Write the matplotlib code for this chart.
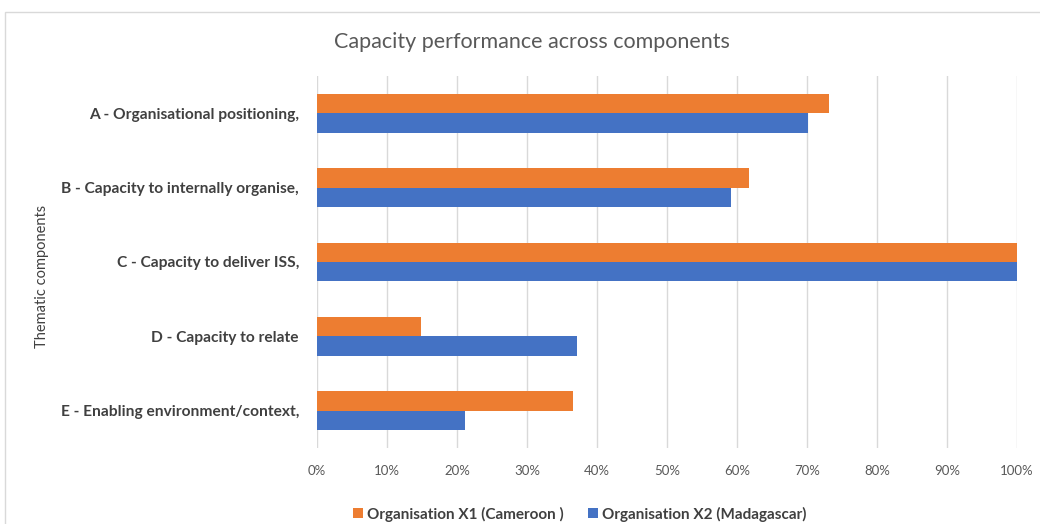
import matplotlib
matplotlib.use("Agg")
import matplotlib.pyplot as plt
from matplotlib.patches import Rectangle
from matplotlib.ticker import PercentFormatter
import numpy as np

plt.rcParams['font.family'] = ['Lato', 'DejaVu Sans']

categories = [
    "A - Organisational positioning,",
    "B - Capacity to internally organise,",
    "C - Capacity to deliver ISS,",
    "D - Capacity to relate",
    "E - Enabling environment/context,",
]
cameroon = [73.1, 61.7, 100.0, 14.9, 36.6]
madagascar = [70.1, 59.1, 100.0, 37.2, 21.2]
series_names = ["Organisation X1 (Cameroon )", "Organisation X2 (Madagascar)"]
x_ticks = list(range(0, 101, 10))

orange = "#ED7D31"
blue = "#4472C4"

fig = plt.figure(figsize=(10.4, 5.24), dpi=100)
fig.patch.set_facecolor("white")

# chart frame
fig.add_artist(Rectangle((5 / 1040, -0.05), 1.1, 1 - 12 / 524 + 0.05,
                         transform=fig.transFigure, fill=False,
                         edgecolor="#D9D9D9", linewidth=1.0))

ax = fig.add_axes([317 / 1040, 1 - 448 / 524, 700 / 1040, 372 / 524])

y = np.arange(len(categories))
h = 0.26
ax.barh(y - h / 2, cameroon, height=h, color=orange, label=series_names[0], zorder=3)
ax.barh(y + h / 2, madagascar, height=h, color=blue, label=series_names[1], zorder=3)

ax.set_xlim(0, 100)
ax.set_ylim(len(categories) - 0.5, -0.5)
ax.set_xticks(x_ticks)
ax.xaxis.set_major_formatter(PercentFormatter(decimals=0))
ax.set_yticks(y)
ax.set_yticklabels(categories, fontweight="bold", color="#404040", fontsize=11.2)
ax.tick_params(axis="x", colors="#595959", labelsize=9.5, length=0, pad=12)
ax.tick_params(axis="y", length=0, pad=13)
ax.grid(axis="x", color="#D9D9D9", linewidth=1.0, zorder=0)
for s in ax.spines.values():
    s.set_visible(False)

fig.text(42 / 1040, 1 - 276 / 524, "Thematic components", rotation=90,
         ha="center", va="center", fontsize=10.5, color="#404040")
fig.text(532 / 1040, 1 - 42 / 524, "Capacity performance across components",
         ha="center", va="center", fontsize=15.5, color="#595959")

fig.legend(loc="center", bbox_to_anchor=(580 / 1040, 1 - 514 / 524), ncol=2,
           frameon=False, handlelength=0.6, handleheight=0.6, handletextpad=0.3,
           columnspacing=1.6, prop={"weight": "bold", "size": 11},
           labelcolor="#404040")

fig.savefig("out.png", dpi=100)
